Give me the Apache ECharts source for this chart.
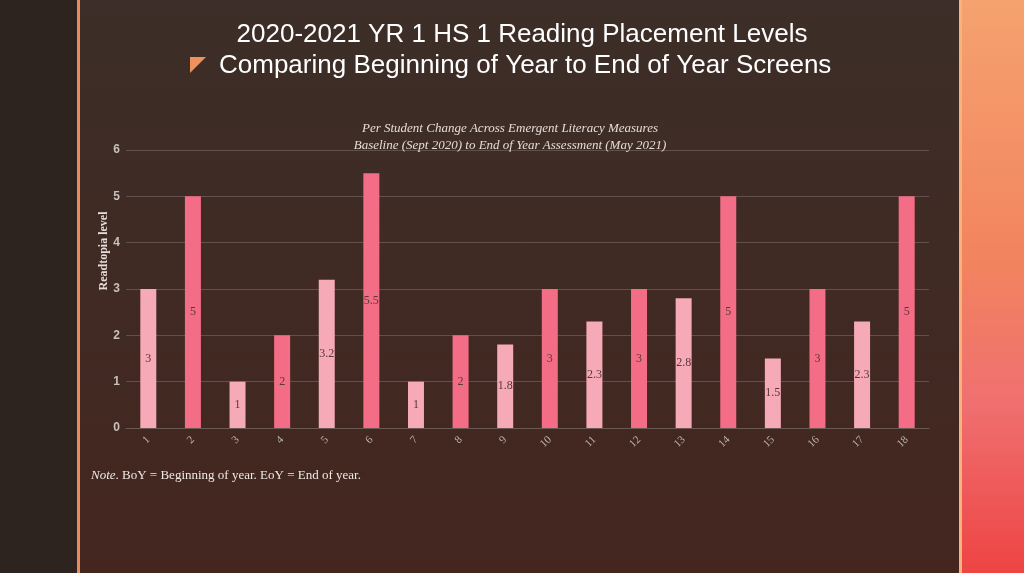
<!DOCTYPE html>
<html>
<head>
<meta charset="utf-8">
<script src="https://cdn.jsdelivr.net/npm/echarts@6/dist/echarts.min.js"></script>
<style>
html,body{margin:0;padding:0;background:#2d2420;}
#ec1{width:1024px;height:573px;}
</style>
</head>
<body>
<div id="ec1"></div>
<script>
// student numbers on the x axis
var students = ['1','2','3','4','5','6','7','8','9','10','11','12','13','14','15','16','17','18'];
// readtopia level change per student
var levels = [3, 5, 1, 2, 3.2, 5.5, 1, 2, 1.8, 3, 2.3, 3, 2.8, 5, 1.5, 3, 2.3, 5];
var yTicks = [0, 1, 2, 3, 4, 5, 6];

var lightPink = '#f6a9b6';
var darkPink = '#f36d87';

var myCharts = echarts.init(document.getElementById('ec1'));

var barData = [];
for (var i = 0; i < levels.length; i++) {
	barData.push({
		value: levels[i],
		itemStyle: {color: i % 2 == 0 ? lightPink : darkPink}
	});
}

option = {
	backgroundColor: '#2d2420',
	animation: false,
	graphic: [
		{ // main panel
			type: 'rect', z: -10,
			shape: {x: 80, y: 0, width: 881, height: 573},
			style: {fill: new echarts.graphic.LinearGradient(0, 0, 0, 1, [
				{offset: 0, color: '#3c2e28'},
				{offset: 1, color: '#44261f'}
			])}
		},
		{ // left orange rule
			type: 'rect', z: -9,
			shape: {x: 77, y: 0, width: 3, height: 573},
			style: {fill: '#ec8a5e'}
		},
		{ // right decoration
			type: 'rect', z: -10,
			shape: {x: 961, y: 0, width: 63, height: 573},
			style: {fill: new echarts.graphic.LinearGradient(0, 0, 0, 1, [
				{offset: 0, color: '#f5a26e'},
				{offset: 0.45, color: '#f2845f'},
				{offset: 0.7, color: '#f07070'},
				{offset: 1, color: '#ee4444'}
			])}
		},
		{
			type: 'rect', z: -9,
			shape: {x: 959, y: 0, width: 3, height: 573},
			style: {fill: '#f7b27e'}
		},
		{ // bullet
			type: 'polygon',
			shape: {points: [[190, 57], [206, 57], [190, 73]]},
			style: {fill: '#f0905c'}
		},
		{
			type: 'text', x: 522, y: 35,
			style: {text: '2020-2021 YR 1 HS 1 Reading Placement Levels', fill: '#ffffff',
				align: 'center', verticalAlign: 'middle',
				font: '26px "Liberation Sans", Arial, sans-serif'}
		},
		{
			type: 'text', x: 219, y: 66,
			style: {text: 'Comparing Beginning of Year to End of Year Screens', fill: '#ffffff',
				verticalAlign: 'middle',
				font: '26px "Liberation Sans", Arial, sans-serif'}
		},
		{
			type: 'text', x: 510, y: 120,
			style: {text: 'Per Student Change Across Emergent Literacy Measures\nBaseline (Sept 2020) to End of Year Assessment (May 2021)',
				fill: '#e6dcd8', align: 'center', lineHeight: 17,
				font: 'italic 13px "Liberation Serif", "DejaVu Serif", serif'}
		},
		{ // y axis title
			type: 'text', x: 104, y: 251, rotation: Math.PI / 2,
			style: {text: 'Readtopia level', fill: '#e6dcd8', align: 'center', verticalAlign: 'middle',
				font: 'bold 12px "Liberation Serif", serif'}
		},
		{
			type: 'text', x: 91, y: 476,
			style: {
				text: '{i|Note}. BoY = Beginning of year. EoY = End of year.',
				fill: '#f0e8e4', verticalAlign: 'middle',
				font: '13px "Liberation Serif", serif',
				rich: {i: {fontStyle: 'italic', fontFamily: 'Liberation Serif', fontSize: 13, fill: '#f0e8e4'}}
			}
		}
	],
	grid: {
		left: 126,
		right: 95,
		top: 150,
		bottom: 145
	},
	xAxis: {
		type: 'category',
		data: students,
		axisTick: {show: false},
		axisLine: {lineStyle: {color: '#6b5a54'}},
		axisLabel: {
			rotate: 45,
			color: '#bdb3ae',
			fontSize: 11,
			fontFamily: 'Liberation Serif',
			margin: 10
		}
	},
	yAxis: {
		type: 'value',
		min: yTicks[0],
		max: yTicks[yTicks.length - 1],
		interval: 1,
		axisLine: {show: false},
		axisTick: {show: false},
		axisLabel: {color: '#c8c0bb', fontSize: 12, fontWeight: 'bold', fontFamily: 'Liberation Sans', margin: 6},
		splitLine: {lineStyle: {color: 'rgba(255,255,255,0.18)'}}
	},
	series: [
		{
			type: 'bar',
			barWidth: 16,
			data: barData,
			label: {
				show: true,
				position: 'inside',
				color: '#5a3838',
				fontSize: 12,
				fontFamily: 'Liberation Serif'
			}
		}
	]
};
myCharts.setOption(option);
</script>
</body>
</html>
